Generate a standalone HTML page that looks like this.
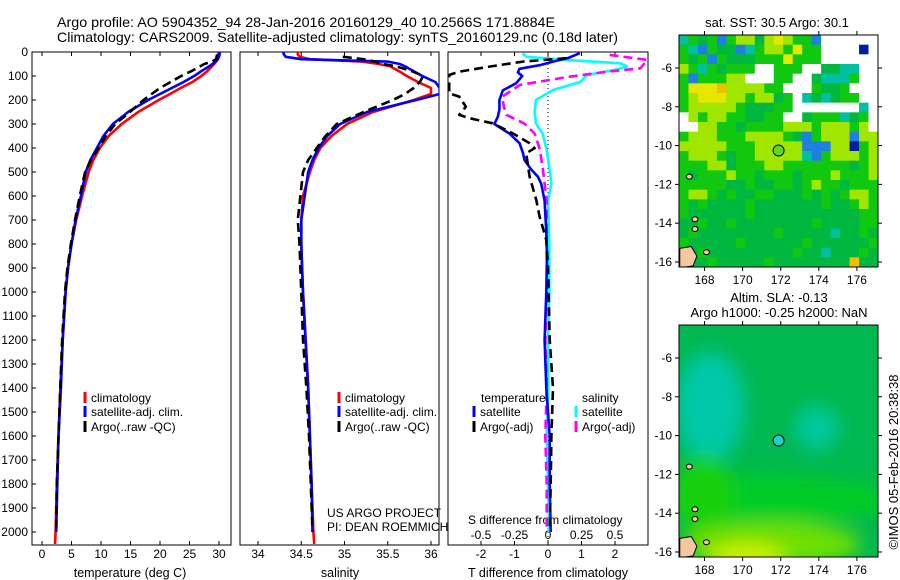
<!DOCTYPE html>
<html><head><meta charset="utf-8"><style>
html,body{margin:0;padding:0;background:#fff;}
svg{display:block;font-family:"Liberation Sans",sans-serif;}
text{fill:#000;}
</style></head><body>
<svg id="fig" width="900" height="580" viewBox="0 0 900 580" xmlns="http://www.w3.org/2000/svg">
<defs>
<clipPath id="c1"><rect x="32" y="52" width="199" height="493"/></clipPath>
<clipPath id="c2"><rect x="240" y="52" width="199" height="493"/></clipPath>
<clipPath id="c3"><rect x="448" y="52" width="200" height="493"/></clipPath>
<clipPath id="cm1"><rect x="679" y="35" width="199" height="232"/></clipPath>
<clipPath id="cm2"><rect x="679" y="325" width="199" height="232"/></clipPath>
<filter id="blur" x="-20%" y="-20%" width="140%" height="140%"><feGaussianBlur stdDeviation="9"/></filter>
</defs>
<text x="57" y="27" font-size="14" textLength="498" lengthAdjust="spacingAndGlyphs">Argo profile: AO 5904352_94 28-Jan-2016 20160129_40 10.2566S 171.8884E</text>
<text x="57" y="42" font-size="14" textLength="561" lengthAdjust="spacingAndGlyphs">Climatology: CARS2009. Satellite-adjusted climatology: synTS_20160129.nc (0.18d later)</text>
<g id="g1"></g>
<g id="g2"></g>
<g id="g3"></g>
<g id="m1"></g>
<g id="m2"></g>
<text x="777" y="27" font-size="13" text-anchor="middle">sat. SST: 30.5 Argo: 30.1</text>
<text x="779" y="302" font-size="13" text-anchor="middle">Altim. SLA: -0.13</text>
<text x="779" y="317" font-size="13" text-anchor="middle">Argo h1000: -0.25 h2000: NaN</text>
<text transform="translate(898,462) rotate(-90)" font-size="13" text-anchor="middle">©IMOS 05-Feb-2016 20:38:38</text>
</svg>
<script>
// ---- profile data ----
const depth = [0,10,20,30,40,50,60,80,100,125,150,175,200,250,300,350,400,450,500,600,700,800,900,1000,1200,1400,1600,1800,2000,2050];
const tempClim = [29.9,29.9,29.9,29.8,29.5,29.2,28.8,28.0,27.0,25.5,23.5,21.7,19.8,16.3,13.5,11.3,9.8,8.7,7.9,6.8,5.8,5.0,4.4,4.0,3.5,3.1,2.8,2.5,2.3,2.2];
const tempSat = [30.1,30.1,30.0,29.8,29.4,28.9,28.3,27.0,25.8,24.0,22.0,20.0,18.0,14.6,12.0,10.4,9.3,8.2,7.4,6.6,5.7,5.0,4.4,4.0,3.5,3.2,2.8,2.6,2.4,null];
const tempArgo = [null,29.7,29.6,29.5,28.8,27.5,26.8,25.3,23.6,21.8,20.0,18.6,17.2,14.9,12.4,10.8,9.6,8.3,7.3,6.4,5.6,4.9,4.3,3.9,3.4,3.1,2.8,2.5,2.4,null];
const salClim = [34.46,34.46,34.48,34.6,35.2,35.4,35.53,35.63,35.72,35.85,36.0,36.0,35.8,35.33,35.03,34.85,34.72,34.65,34.6,34.52,34.5,34.5,34.51,34.52,34.55,34.58,34.6,34.62,34.64,34.65];
const salSat = [34.29,34.3,34.32,34.5,35.5,35.64,35.7,35.8,35.9,36.05,36.1,36.1,35.83,35.26,34.95,34.8,34.7,34.63,34.58,34.54,34.5,34.5,34.51,34.52,34.55,34.58,34.6,34.62,34.63,null];
const salArgo = [null,null,34.98,35.22,35.35,35.45,35.6,35.78,35.91,35.87,35.8,35.7,35.56,35.22,34.91,34.78,34.68,34.58,34.52,34.49,34.46,34.48,34.49,34.5,34.52,34.56,34.59,34.61,34.63,null];
// difference panel
const dSatTDepth = [5,25,40,55,70,85,100,130,160,200,240,270,300,340,380,420,450,490,520,550,620,750,850,1000,1200,1400,1600,1800,2000];
const dSatT = [0.95,0.6,0.15,-0.25,-0.85,-0.9,-0.77,-0.95,-1.35,-1.45,-1.45,-1.5,-1.6,-1.15,-0.85,-0.75,-0.7,-0.5,-0.3,-0.2,-0.1,-0.05,-0.03,-0.05,-0.1,-0.05,0.05,0.05,0.08];
const dArgoTDepth = [26,40,61,82,96,130,172,186,228,262,276,297,339,380,401,422,519,617,686,783,894,1000,1200,1400,1600,1800,1990];
const dArgoT = [0.55,-0.75,-1.75,-2.65,-2.95,-2.95,-2.95,-2.65,-2.45,-2.65,-2.35,-1.65,-1.05,-0.55,-0.4,-0.65,-0.55,-0.35,-0.25,-0.05,0.0,0.02,0.05,0.15,0.1,0.08,0.05];
const dSatSDepth = [6,20,33,47,61,75,96,125,158,200,250,297,339,408,480,547,620,800,1000,1200,1400,1600,1800,2000];
const dSatS = [-0.19,-0.16,0.14,0.54,0.59,0.49,0.29,0.24,0.04,-0.09,-0.1,-0.09,-0.04,-0.01,0.01,0.025,0.0,0.01,0.01,0.0,0.0,-0.01,0.0,0.01];
const dArgoSDepth = [12,33,68,82,103,137,186,228,262,297,339,408,480,547,620,800,1000,1200,1400,1600,1800,1990];
const dArgoS = [0.46,0.74,0.69,0.44,0.16,-0.21,-0.34,-0.33,-0.31,-0.18,-0.1,-0.06,-0.04,-0.025,-0.01,-0.01,-0.01,-0.02,-0.01,-0.02,-0.01,-0.01];
const depthTicks = [0,100,200,300,400,500,600,700,800,900,1000,1100,1200,1300,1400,1500,1600,1700,1800,1900,2000];
const tempTicks = [0,5,10,15,20,25,30];
const salTicks = [34,34.5,35,35.5,36];
const dTTicks = [-2,-1,0,1,2];
const dSTicks = [-0.5,-0.25,0,0.25,0.5];
// SST map grid (top row = north), codes map to colours
const sstRows = [
"cgGgbgyyGyYyggb......",
"gcbgGGbcgyygYgg....B.",
"gGgbgGGGgggYggg......",
"ygcgGggg..ggg..GGcc..",
"gbgggyy...gg..Gcccg..",
"gYYYoyyyygg...gGGg...",
"gyYYYyygyyGg.cGcGgg..",
"gyyyyygGGGgg.......c.",
".ygyyggGGgg..GgggcGg.",
"..yyggGggggyyygyyygy.",
"gyyygggyyyygGbgyyybyy",
"yyyyygggyyyyybbbyyBgy",
"gyyygGggyyyyycbgyyygy",
"gggyyGgggyygggggggGgy",
"gGgggyggGgggGgggygggy",
"gggggGGgGGggGgyggGggg",
"gyygGgGGggGGGgGgGgyyg",
"gGgGGGGgGGGGGGGgGGgyg",
"gGGGGGGgGGGGGGGGGGGgg",
"GGgGGgGGGGGGGGgGGGGgg",
"GgGGGGGGGGgGGGGGcGGgG",
"gGGGGGgGGGGGGgGGGGGGg",
"GGgGGGGGGGGGgGGcGGGgG",
"GGGgGGGGGgGGGGGGGGoGG"];
const mapLonTicks = [168,170,172,174,176];
const mapLatTicks = [-6,-8,-10,-12,-14,-16];
const argoLon = 171.8884, argoLat = -10.2566;

const NS="http://www.w3.org/2000/svg";
function el(parent,tag,attrs){const e=document.createElementNS(NS,tag);for(const k in attrs)e.setAttribute(k,attrs[k]);parent.appendChild(e);return e;}
const yD = d => 52 + d*0.24;
const xT = t => 42 + t*5.9;
const xS = s => 258 + (s-34)*86.5;
const xDiff = v => 548 + v*33.5;
const xDiffS = s => 548 + s*4*33.5;

function line(g, xs, ds, fx, color, dashed, clip, name){
  let d="", pen=false;
  for(let i=0;i<xs.length;i++){
    if(xs[i]==null){pen=false;continue;}
    d += (pen?"L":"M")+fx(xs[i]).toFixed(1)+","+yD(ds[i]).toFixed(1);
    pen=true;
  }
  const p=el(g,"path",{d:d,fill:"none",stroke:color,"stroke-width":2.6,"clip-path":"url(#"+clip+")","stroke-linejoin":"round"});
  if(dashed) p.setAttribute("stroke-dasharray","9,5");
  
  
}
function frame(g,x,w,name){
  const r=el(g,"rect",{x:x,y:52,width:w,height:493,fill:"none",stroke:"#000","stroke-width":1});
  
  
}
function xticks(g,ticks,fx,labels,y,name){
  ticks.forEach((t,i)=>{
    const x=fx(t);
    el(g,"line",{x1:x,x2:x,y1:52,y2:56,stroke:"#000"});
    el(g,"line",{x1:x,x2:x,y1:545,y2:541,stroke:"#000"});
    const tx=el(g,"text",{x:x,y:y,"font-size":12,"text-anchor":"middle"});
    tx.textContent=labels[i];
    
    
  });
}
function legend(g,x,y,color,label,dashed){
  el(g,"line",{x1:x,x2:x,y1:y-10,y2:y+1,stroke:color,"stroke-width":3});
  const t=el(g,"text",{x:x+6,y:y,"font-size":12});
  t.textContent=label;
  
  
}
function title(g,x,txt,name){
  const t=el(g,"text",{x:x,y:577,"font-size":12.5,"text-anchor":"middle"});
  t.textContent=txt;
  
  
}

// Panel 1
const g1=document.getElementById("g1");
frame(g1,32,199,"temperature-plot-frame");
depthTicks.forEach(d=>{
  el(g1,"line",{x1:32,x2:36,y1:yD(d),y2:yD(d),stroke:"#000"});
  const t=el(g1,"text",{x:28,y:yD(d)+4,"font-size":12,"text-anchor":"end"});
  t.textContent=d;
  
  
});
xticks(g1,tempTicks,xT,tempTicks.map(String),558,"x-tick-label");
line(g1,tempClim,depth,xT,"#ff0000",false,"c1","temp-climatology-line");
line(g1,tempSat,depth,xT,"#0000ff",false,"c1","temp-satellite-line");
line(g1,tempArgo,depth,xT,"#000",true,"c1","temp-argo-line");
legend(g1,85,402,"#ff0000","climatology");
legend(g1,85,416,"#0000ff","satellite-adj. clim.");
legend(g1,85,431,"#000","Argo(..raw -QC)");
title(g1,130,"temperature (deg C)","x-axis-title-temperature");

// Panel 2
const g2=document.getElementById("g2");
frame(g2,240,199,"salinity-plot-frame");
xticks(g2,salTicks,xS,salTicks.map(String),558,"x-tick-label");
line(g2,salClim,depth,xS,"#ff0000",false,"c2","sal-climatology-line");
line(g2,salSat,depth,xS,"#0000ff",false,"c2","sal-satellite-line");
line(g2,salArgo,depth,xS,"#000",true,"c2","sal-argo-line");
legend(g2,339,402,"#ff0000","climatology");
legend(g2,339,416,"#0000ff","satellite-adj. clim.");
legend(g2,339,431,"#000","Argo(..raw -QC)");
title(g2,340,"salinity","x-axis-title-salinity");
[["US ARGO PROJECT",517],["PI: DEAN ROEMMICH",531]].forEach(a=>{
  const t=el(g2,"text",{x:327,y:a[1],"font-size":12});t.textContent=a[0];
  
  
});

// Panel 3
const g3=document.getElementById("g3");
frame(g3,448,200,"difference-plot-frame");
el(g3,"line",{x1:548,x2:548,y1:52,y2:545,stroke:"#000","stroke-dasharray":"1,3"});
xticks(g3,dTTicks,xDiff,dTTicks.map(String),558,"x-tick-label");
dSTicks.forEach(s=>{
  const t=el(g3,"text",{x:xDiffS(s),y:539,"font-size":12,"text-anchor":"middle"});t.textContent=String(s);
  
  
});
const st=el(g3,"text",{x:468,y:524,"font-size":12});st.textContent="S difference from climatology";


line(g3,dSatS,dSatSDepth,xDiffS,"#00ffff",false,"c3","sal-diff-satellite-line");
line(g3,dArgoS,dArgoSDepth,xDiffS,"#ff00ff",true,"c3","sal-diff-argo-line");
line(g3,dSatT,dSatTDepth,xDiff,"#0000ff",false,"c3","temp-diff-satellite-line");
line(g3,dArgoT,dArgoTDepth,xDiff,"#000",true,"c3","temp-diff-argo-line");
const th=el(g3,"text",{x:481,y:402,"font-size":12});th.textContent="temperature";


const sh=el(g3,"text",{x:582,y:402,"font-size":12});sh.textContent="salinity";


legend(g3,474,416,"#0000ff","satellite");
legend(g3,474,431,"#000","Argo(-adj)");
legend(g3,576,416,"#00ffff","satellite");
legend(g3,576,431,"#ff00ff","Argo(-adj)");
title(g3,548,"T difference from climatology","x-axis-title-difference");

// Maps
const lonX = lon => 679 + (lon-166.66)*19.05;
function latY(lat,top){return top + (-4.3-lat)*19.4;}
const sstColors={g:"#10c810",G:"#00b840",y:"#a0e600",Y:"#e6e600",o:"#f0c000",c:"#00c0a0",b:"#2080e0",B:"#0020a0",".":"#ffffff"};
function mapAxes(g,top,labelY){
  el(g,"rect",{x:679,y:top,width:199,height:232,fill:"none",stroke:"#000"});
  mapLonTicks.forEach(l=>{
    const x=lonX(l);
    el(g,"line",{x1:x,x2:x,y1:top,y2:top-4,stroke:"#000"});
    el(g,"line",{x1:x,x2:x,y1:top+232,y2:top+236,stroke:"#000"});
    const t=el(g,"text",{x:x,y:labelY,"font-size":12,"text-anchor":"middle"});t.textContent=l;
    
    
  });
  mapLatTicks.forEach(l=>{
    const y=latY(l,top);
    el(g,"line",{x1:679,x2:675,y1:y,y2:y,stroke:"#000"});
    el(g,"line",{x1:878,x2:882,y1:y,y2:y,stroke:"#000"});
    const t=el(g,"text",{x:672,y:y+4,"font-size":12,"text-anchor":"end"});t.textContent=l;
    
    
  });
}
function land(g,top){
  const pts=[[166.7,-15.3],[167.3,-15.2],[167.6,-15.7],[167.4,-16.2],[166.7,-16.3]];
  el(g,"polygon",{points:pts.map(p=>lonX(p[0])+","+latY(p[1],top)).join(" "),fill:"#f5c8a0",stroke:"#000","stroke-width":1});
  [[167.5,-13.8],[167.5,-14.3],[167.2,-11.6],[168.1,-15.5]].forEach(p=>{
    el(g,"ellipse",{cx:lonX(p[0]),cy:latY(p[1],top),rx:3,ry:2.5,fill:"#f5c8a0",stroke:"#000","stroke-width":1});
  });
}
const m1=document.getElementById("m1");
const cw=199/sstRows[0].length, ch=232/sstRows.length;
const cells=el(m1,"g",{"clip-path":"url(#cm1)"});
sstRows.forEach((row,r)=>{
  for(let c=0;c<row.length;c++){
    const rc=el(cells,"rect",{x:(679+c*cw).toFixed(2),y:(35+r*ch).toFixed(2),width:(cw+0.4).toFixed(2),height:(ch+0.4).toFixed(2),fill:sstColors[row[c]]});
    
    
  }
});
land(cells,35);
const c1=el(m1,"circle",{cx:lonX(argoLon),cy:latY(argoLat,35),r:5.5,fill:"#60d820",stroke:"#000"});


mapAxes(m1,35,284);

const m2=document.getElementById("m2");
const sg=el(m2,"g",{"clip-path":"url(#cm2)"});
el(sg,"rect",{x:679,y:325,width:199,height:232,fill:"#00b850"});
const blobs=el(sg,"g",{filter:"url(#blur)"});
[[168.3,-8.5,35,55,"#00c8a8"],[173.9,-9.6,22,22,"#00c8a0"],[171,-13.3,130,25,"#00cc28"],[168,-13,30,40,"#18d010"],[171.5,-15.6,90,22,"#70e000"],[170.2,-16.3,40,14,"#d0f000"]].forEach(b=>{
  el(blobs,"ellipse",{cx:lonX(b[0]),cy:latY(b[1],325),rx:b[2],ry:b[3],fill:b[4]});
});
land(sg,325);
const c2=el(m2,"circle",{cx:lonX(argoLon),cy:latY(argoLat,325),r:5.5,fill:"#20d0d0",stroke:"#000"});


mapAxes(m2,325,574);
</script>
</body></html>
